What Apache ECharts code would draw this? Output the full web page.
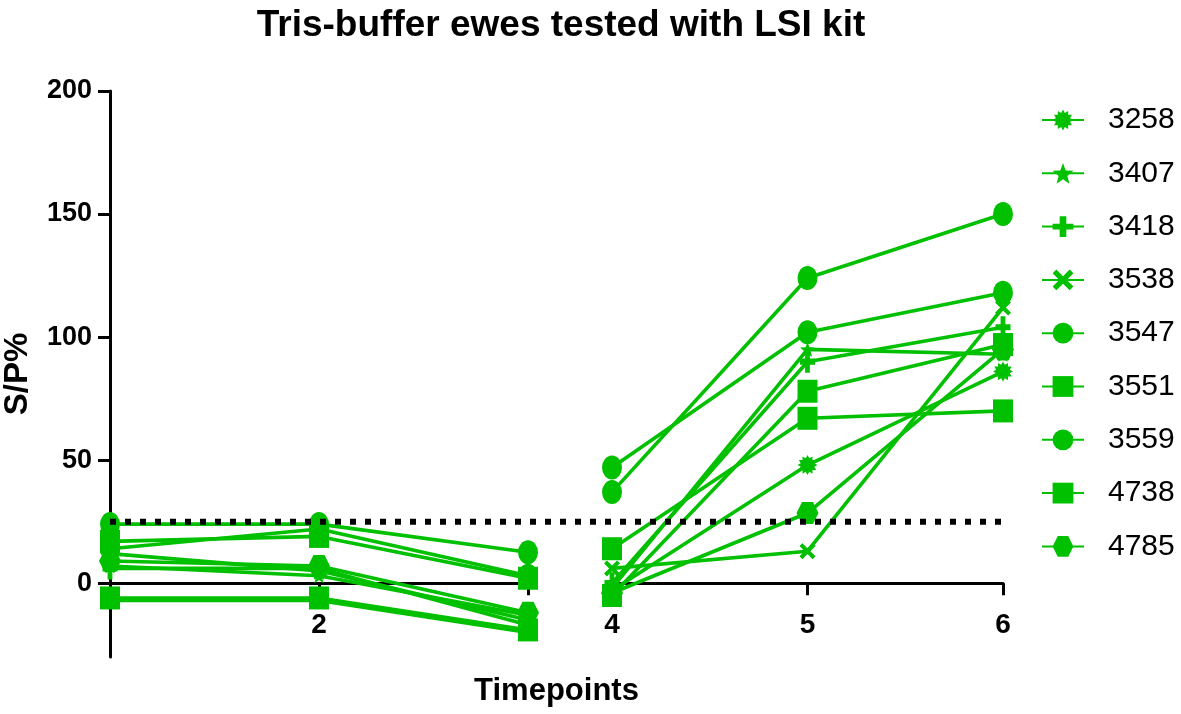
<!DOCTYPE html>
<html><head><meta charset="utf-8">
<script src="https://cdn.jsdelivr.net/npm/echarts@6/dist/echarts.min.js"></script>
<style>html,body{margin:0;padding:0;background:#fff}#c{width:1181px;height:714px}</style>
</head><body><div id="c"></div>
<script>
// ---------- data ----------
const seriesNames = ['3258', '3407', '3418', '3538', '3547', '3551', '3559', '4738', '4785'];
const timepointsA = [1, 2, 3];
const timepointsB = [4, 5, 6];
const xLabelsA = [2];
const xLabelsB = [4, 5, 6];
const yTickLabels = [0, 50, 100, 150, 200];
const cutoff = 25;
// values per animal at timepoints 1..6
const v3258 = [12, 5, -15, -3, 48, 86];
const v3407 = [7, 3, -13, -2, 95, 93];
const v3418 = [6, 6, -17, 0, 90, 104];
const v3538 = [-7, -7, -20, 6, 13, 112];
const v3547 = [24, 24, 12.6, 37, 124, 150];
const v3551 = [17, 19, 2, 14, 67, 70];
const v3559 = [14, 22, 3, 47, 102, 118];
const v4738 = [-6, -6, -19, -5, 78, 97];
const v4785 = [9, 7, -12, -4, 28.5, 95];
const seriesValues = [v3258, v3407, v3418, v3538, v3547, v3551, v3559, v4738, v4785];

// ---------- styles ----------
const GREEN = '#00C000';
const FONT = 'Liberation Sans, Arial, sans-serif';
function burst(n, ro, ri) {
  let d = '';
  for (let k = 0; k < 2 * n; k++) {
    const r = k % 2 === 0 ? ro : ri;
    const a = Math.PI * k / n - Math.PI / 2;
    d += (k === 0 ? 'M' : 'L') + (50 + 50 * r * Math.cos(a)).toFixed(2) + ',' + (50 + 50 * r * Math.sin(a)).toFixed(2);
  }
  return 'path://' + d + 'Z';
}
const symbols = [
  { s: burst(12, 1, 0.7), size: 20 },
  { s: burst(5, 1, 0.42), size: 15 },
  { s: 'path://M34,0H66V36H100V64H66V100H34V64H0V36H34Z', size: [15, 22] },
  { s: 'path://M18,0L50,32L82,0L100,18L68,50L100,82L82,100L50,68L18,100L0,82L32,50L0,18Z', size: 16 },
  { s: 'circle', size: [20, 24] },
  { s: 'rect', size: [20, 23] },
  { s: 'circle', size: [20, 24] },
  { s: 'rect', size: [20, 23] },
  { s: 'path://M25,0H75L100,50L75,100H25L0,50Z', size: [22, 22] }
];

const series = [];
seriesNames.forEach((name, i) => {
  const vals = seriesValues[i];
  const common = {
    name: name, type: 'line', clip: false,
    symbol: symbols[i].s, symbolSize: symbols[i].size,
    itemStyle: { color: GREEN },
    lineStyle: { color: GREEN, width: 3.6 },
    emphasis: { disabled: true }
  };
  series.push(Object.assign({}, common, { xAxisIndex: 0, yAxisIndex: 0, data: timepointsA.map((t, k) => [t, vals[k]]) }));
  series.push(Object.assign({}, common, { xAxisIndex: 1, yAxisIndex: 1, data: timepointsB.map((t, k) => [t, vals[k + 3]]) }));
});
series.push({
  name: 'cutoff', type: 'line', xAxisIndex: 2, yAxisIndex: 2, z: 5, symbol: 'none', silent: true,
  data: [[0, cutoff], [1, cutoff]],
  lineStyle: { color: '#000', width: 6, type: [6, 9], cap: 'butt' }
});

const axisLineStyle = { color: '#000', width: 3 };
const labelStyle = { color: '#000', fontWeight: 'bold', fontSize: 27, fontFamily: FONT };
const yMin = -30, yMax = 200;
const gridTop = 91, gridHeight = 566;
// move the x axes up so that they sit on the zero line (with their labels)
const zeroOffset = -(0 - yMin) / (yMax - yMin) * gridHeight;

const option = {
  animation: false,
  backgroundColor: '#fff',
  title: {
    text: 'Tris-buffer ewes tested with LSI kit',
    left: 556, top: 2, textAlign: 'center',
    textStyle: { color: '#000', fontWeight: 'bold', fontSize: 37, fontFamily: FONT }
  },
  legend: {
    data: seriesNames,
    orient: 'vertical', left: 1041, top: 105, padding: 0,
    itemWidth: 42, itemHeight: 26, itemGap: 23.3,
    textStyle: { color: '#000', fontSize: 30, fontFamily: FONT, padding: [0, 0, 0, 19] }
  },
  grid: [
    { left: 110, top: gridTop, width: 418, height: gridHeight },
    { left: 612, top: gridTop, width: 391, height: gridHeight },
    { left: 110, top: gridTop, width: 893, height: gridHeight }
  ],
  xAxis: [
    {
      gridIndex: 0, type: 'value', min: 1, max: 3, interval: 1, offset: zeroOffset,
      axisLine: { onZero: false, lineStyle: axisLineStyle },
      axisTick: { customValues: [2, 3], length: 12, lineStyle: axisLineStyle },
      axisLabel: Object.assign({ customValues: xLabelsA, margin: 28 }, labelStyle, { fontSize: 28 }),
      splitLine: { show: false }
    },
    {
      gridIndex: 1, type: 'value', min: 4, max: 6, interval: 1, offset: zeroOffset,
      axisLine: { onZero: false, lineStyle: axisLineStyle },
      axisTick: { customValues: xLabelsB, length: 12, lineStyle: axisLineStyle },
      axisLabel: Object.assign({ customValues: xLabelsB, margin: 28 }, labelStyle, { fontSize: 28 }),
      splitLine: { show: false }
    },
    {
      gridIndex: 2, type: 'value', min: 0, max: 1,
      axisLine: { show: false, onZero: false }, axisTick: { show: false }, axisLabel: { show: false },
      splitLine: { show: false },
      name: 'Timepoints', nameLocation: 'middle', nameGap: 19,
      nameTextStyle: { color: '#000', fontWeight: 'bold', fontSize: 31, fontFamily: FONT }
    }
  ],
  yAxis: [
    {
      gridIndex: 0, type: 'value', min: yMin, max: yMax,
      axisLine: { show: true, onZero: false, lineStyle: axisLineStyle },
      axisTick: { show: true, customValues: yTickLabels, length: 12, lineStyle: axisLineStyle },
      axisLabel: Object.assign({ customValues: yTickLabels, margin: 18 }, labelStyle),
      splitLine: { show: false },
      name: 'S/P%', nameLocation: 'middle', nameGap: 76,
      nameTextStyle: { color: '#000', fontWeight: 'bold', fontSize: 33, fontFamily: FONT }
    },
    { gridIndex: 1, type: 'value', min: yMin, max: yMax, show: false },
    { gridIndex: 2, type: 'value', min: yMin, max: yMax, show: false }
  ],
  series: series
};
const chart = echarts.init(document.getElementById('c'), null, { renderer: 'canvas' });
chart.setOption(option);
</script>
</body></html>
